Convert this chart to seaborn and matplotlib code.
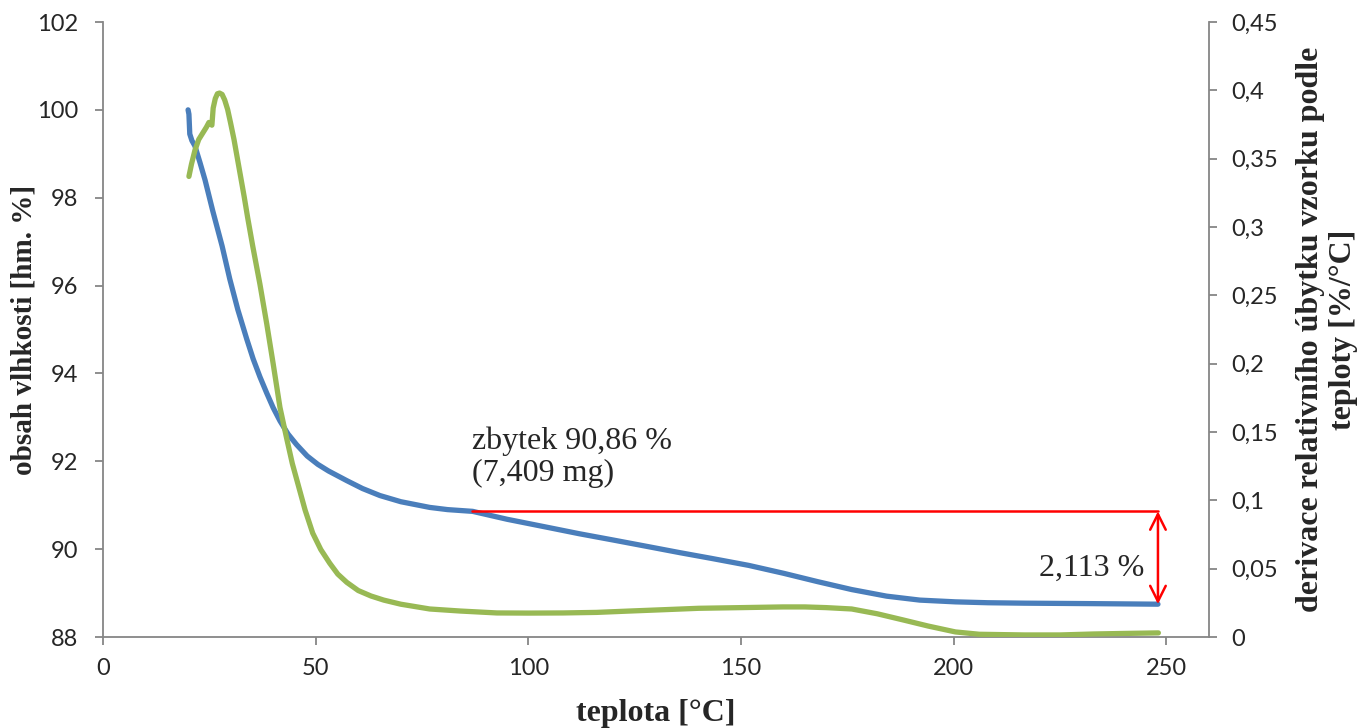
import numpy as np
import pandas as pd
import matplotlib
matplotlib.use("Agg")
import matplotlib.pyplot as plt
import seaborn as sns

# --- TGA curve: residual mass in % (left axis) ---
t_mass = [20.0, 20.2, 20.4, 20.9, 21.6, 22.8, 24.0, 25.8, 28.0, 29.8, 31.7,
          33.8, 35.3, 36.9, 38.5, 40.0, 41.6, 43.5, 45.5, 48.0, 50.5, 53.0,
          57.3, 61.0, 65.1, 70.0, 76.8, 81.0, 86.9, 95.0, 104.3, 112.0,
          119.8, 128.0, 135.6, 143.0, 151.8, 160.0, 168.0, 176.0, 184.2,
          192.0, 200.4, 208.0, 216.6, 232.0, 248.0]
mass = [100.0, 99.9, 99.45, 99.3, 99.18, 98.8, 98.4, 97.7, 96.9, 96.15,
        95.45, 94.78, 94.33, 93.92, 93.55, 93.22, 92.92, 92.62, 92.38, 92.12,
        91.93, 91.78, 91.56, 91.38, 91.22, 91.08, 90.95, 90.90, 90.86, 90.68,
        90.50, 90.35, 90.21, 90.06, 89.92, 89.79, 89.63, 89.45, 89.26, 89.08,
        88.93, 88.84, 88.80, 88.78, 88.77, 88.76, 88.747]

# --- DTG curve: derivative of relative mass loss in %/°C (right axis) ---
t_deriv = [20.2, 20.8, 21.6, 22.5, 23.5, 24.3, 24.9, 25.6, 25.9, 26.4, 26.9,
           27.4, 28.0, 28.6, 29.3, 30.0, 30.8, 31.6, 32.4, 33.2, 34.0, 35.2,
           36.9, 38.5, 40.0, 41.6, 43.2, 44.5, 46.0, 47.5, 49.3, 51.2, 53.3,
           55.2, 57.3, 60.0, 63.0, 66.0, 70.0, 76.8, 84.0, 92.6, 100.0,
           108.1, 116.0, 123.8, 132.0, 140.0, 150.0, 159.8, 165.0, 170.0,
           176.0, 182.0, 188.2, 194.0, 200.4, 206.0, 216.6, 225.0, 232.8,
           240.0, 248.1]
deriv = [0.337, 0.346, 0.356, 0.364, 0.369, 0.373, 0.3765, 0.3745, 0.387,
         0.394, 0.3975, 0.398, 0.397, 0.393, 0.386, 0.376, 0.364, 0.350,
         0.336, 0.322, 0.307, 0.286, 0.258, 0.229, 0.200, 0.168, 0.145,
         0.127, 0.110, 0.093, 0.076, 0.064, 0.054, 0.046, 0.040, 0.034,
         0.030, 0.027, 0.024, 0.0205, 0.019, 0.0176, 0.0175, 0.0176, 0.018,
         0.019, 0.020, 0.021, 0.0215, 0.022, 0.022, 0.0215, 0.0205, 0.017,
         0.0124, 0.008, 0.0037, 0.002, 0.0015, 0.0015, 0.0022, 0.0026, 0.003]

# residue annotation
residue_pct = 90.86
residue_mg = "7,409"
loss_pct = 2.113
residue_from_t = 86.7
end_t = 248.0

# axis ticks
x_ticks = [0, 50, 100, 150, 200, 250]
left_ticks = [88, 90, 92, 94, 96, 98, 100, 102]
right_ticks = [0, 0.05, 0.1, 0.15, 0.2, 0.25, 0.3, 0.35, 0.4, 0.45]
right_tick_labels = ["0", "0,05", "0,1", "0,15", "0,2", "0,25", "0,3",
                     "0,35", "0,4", "0,45"]

sns.set_style("white")
plt.rcParams["font.family"] = ["Lato", "DejaVu Sans"]

BLUE = "#4A7EBB"
GREEN = "#98B954"
AXIS_GREY = "#868686"
SERIF = "Liberation Serif"

W, H = 1364, 728
fig = plt.figure(figsize=(W / 100, H / 100), dpi=100)
x0, x1, ytop, ybot = 103, 1209, 22, 637
ax = fig.add_axes([x0 / W, 1 - ybot / H, (x1 - x0) / W, (ybot - ytop) / H])
ax2 = ax.twinx()

df_mass = pd.DataFrame({"t": t_mass, "m": mass})
df_der = pd.DataFrame({"t": t_deriv, "d": deriv})

sns.lineplot(data=df_mass, x="t", y="m", ax=ax, color=BLUE, linewidth=3.8,
             solid_capstyle="round", solid_joinstyle="round", zorder=3)
sns.lineplot(data=df_der, x="t", y="d", ax=ax2, color=GREEN, linewidth=3.8,
             solid_capstyle="round", solid_joinstyle="round", zorder=3)

ax.set_xlim(0, 260)
ax.set_ylim(88, 102)
ax2.set_ylim(0, 0.45)

ax.set_xticks(x_ticks)
ax.set_xticklabels([str(v) for v in x_ticks])
ax.set_yticks(left_ticks)
ax.set_yticklabels([str(v) for v in left_ticks])
ax2.set_yticks(right_ticks)
ax2.set_yticklabels(right_tick_labels)

for a in (ax, ax2):
    a.spines["top"].set_visible(False)
    for s in ("left", "right", "bottom"):
        a.spines[s].set_color(AXIS_GREY)
        a.spines[s].set_linewidth(1.3)
    a.grid(False)
ax.spines["right"].set_visible(False)
ax2.spines["left"].set_visible(False)
ax2.spines["bottom"].set_visible(False)

ax.tick_params(axis="x", direction="out", length=6, width=1.3,
               color=AXIS_GREY, labelsize=17, pad=9, bottom=True)
ax.tick_params(axis="y", direction="out", length=6, width=1.3,
               color=AXIS_GREY, labelsize=17, pad=12, left=True)
ax2.tick_params(axis="y", direction="out", length=6, width=1.3,
                color=AXIS_GREY, labelsize=17, pad=10, right=True)

ax.set_xlabel("teplota [°C]", fontfamily=SERIF, fontweight="bold",
              fontsize=23)
ax.xaxis.set_label_coords(0.5, (ybot - 714) / (ybot - ytop))
ax.xaxis.label.set_verticalalignment("center")

ax.set_ylabel("obsah vlhkosti [hm. %]", fontfamily=SERIF, fontweight="bold",
              fontsize=21)
ax.yaxis.set_label_coords((24 - x0) / (x1 - x0), 0.5)
ax.yaxis.label.set_verticalalignment("center")

ax2.set_ylabel("derivace relativního úbytku vzorku podle\nteploty [%/°C]",
               fontfamily=SERIF, fontweight="bold", fontsize=23,
               rotation=90, linespacing=1.15, multialignment="center")
ax2.yaxis.set_label_coords((1327 - x0) / (x1 - x0), 0.5)
ax2.yaxis.label.set_verticalalignment("center")
ax2.yaxis.label.set_horizontalalignment("center")

# residue level and mass-loss arrow
ax.plot([residue_from_t, end_t], [residue_pct, residue_pct], color="red",
        linewidth=1.8, zorder=4)
ax.annotate("", xy=(end_t, residue_pct - loss_pct), xytext=(end_t, residue_pct),
            arrowprops=dict(arrowstyle="<->", color="red", lw=1.8,
                            mutation_scale=28, shrinkA=0, shrinkB=0),
            zorder=4)

ax.text(residue_from_t, 92.1,
        f"zbytek {str(residue_pct).replace('.', ',')} %\n({residue_mg} mg)",
        fontfamily=SERIF, fontsize=23, ha="left", va="center",
        linespacing=1.12)
ax.text(end_t - 3.2, 89.57, f"{str(loss_pct).replace('.', ',')} %",
        fontfamily=SERIF, fontsize=23, ha="right", va="center")

fig.savefig("out.png", dpi=100)
